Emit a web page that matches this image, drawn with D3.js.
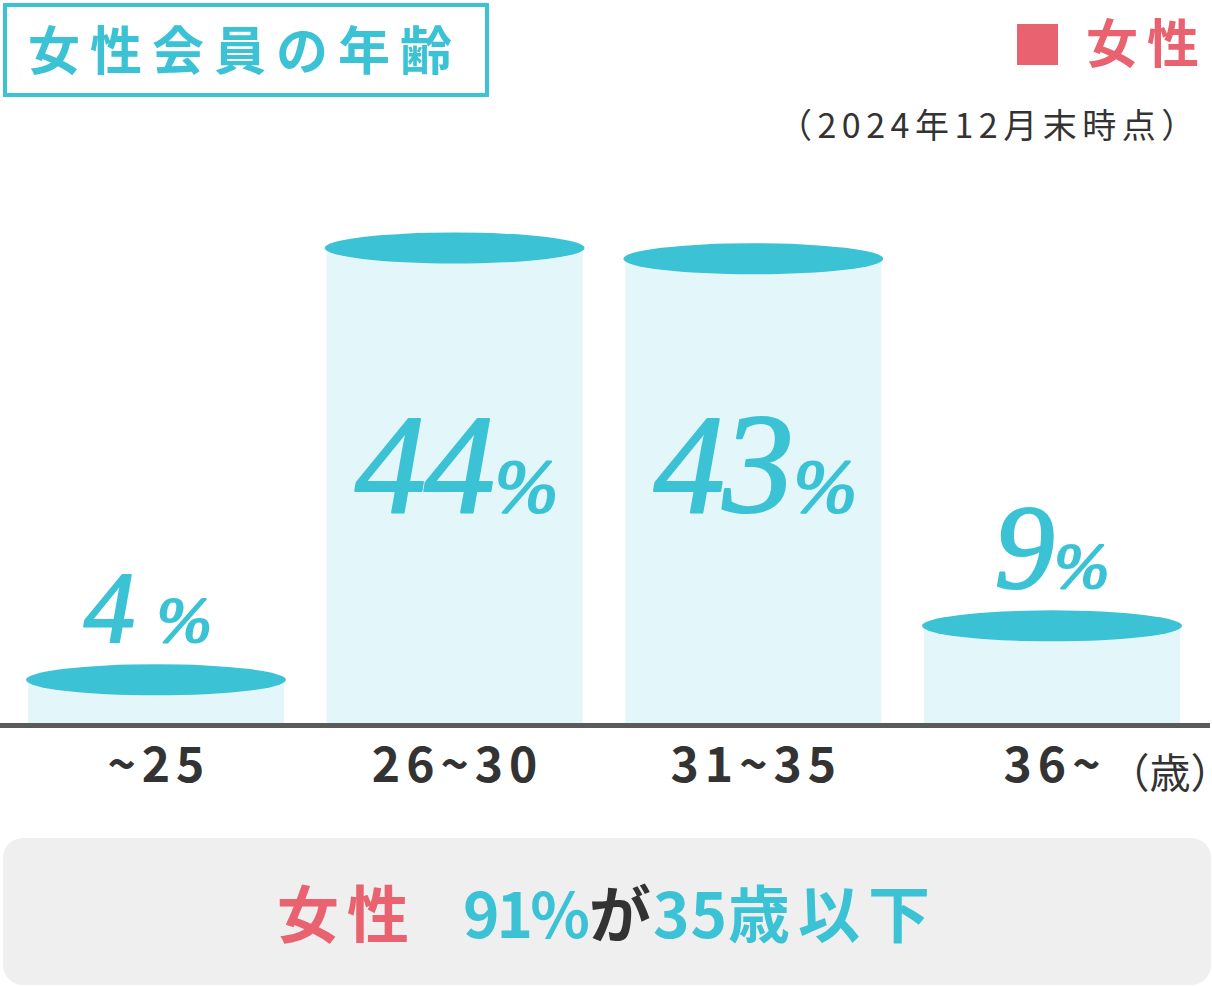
<!DOCTYPE html>
<html><head><meta charset="utf-8">
<script src="https://cdn.jsdelivr.net/npm/d3@7/dist/d3.min.js"></script>
<style>
html,body{margin:0;padding:0;background:#fff;}
svg{display:block;}
text{font-family:"Noto Sans CJK JP","Noto Sans",sans-serif;}
</style></head>
<body>
<script>
// ---- data ----
const categories = ["~25", "26~30", "31~35", "36~"];
const values = [4, 44, 43, 9];
const valueLabels = ["4", "44", "43", "9"];
const titleText = "女性会員の年齢";
const legendLabel = "女性";
const noteText = "（2024年12月末時点）";
const unitText = "（歳）";
const summaryParts = ["女性", "91%", "が", "35", "歳以下"];
const summaryColors = ["pink", "teal", "dark", "teal", "teal"];

const W = 1212, H = 986;
const TEAL = "#3bc2d5", BODY = "#e3f7fb", PINK = "#e8636f", DARK = "#333333";
const colorOf = {pink: PINK, teal: TEAL, dark: DARK};

const svg = d3.select("body").append("svg").attr("width", W).attr("height", H);

const baseY = 723;
const x = d3.scaleBand().domain(categories).range([28, 1180]).paddingInner(0.143).paddingOuter(0);
const y = d3.scaleLinear().domain([0, 44]).range([baseY, 248]);

// Title box
svg.append("rect").attr("x", 5).attr("y", 5).attr("width", 482).attr("height", 90)
  .attr("fill", "#fff").attr("stroke", TEAL).attr("stroke-width", 4);
svg.append("text").attr("x", 28).attr("y", 70).attr("fill", TEAL)
  .attr("font-size", 52).attr("font-weight", 700).attr("letter-spacing", 10)
  .text(titleText);

// Legend
svg.append("rect").attr("x", 1017).attr("y", 24).attr("width", 41).attr("height", 41).attr("fill", PINK);
svg.append("text").attr("x", 1086).attr("y", 63).attr("fill", PINK)
  .attr("font-size", 52).attr("font-weight", 700).attr("letter-spacing", 9)
  .text(legendLabel);

// Note
svg.append("text").attr("x", 778).attr("y", 138).attr("fill", DARK)
  .attr("font-size", 34).attr("letter-spacing", 5.5)
  .text(noteText);

// Bars (cylinders)
const g = svg.append("g");
const bars = g.selectAll("g.bar").data(categories.map((c, i) => ({c, v: values[i], l: valueLabels[i]})))
  .join("g").attr("class", "bar");

bars.append("rect")
  .attr("x", d => x(d.c))
  .attr("y", d => y(d.v))
  .attr("width", x.bandwidth())
  .attr("height", d => baseY - y(d.v))
  .attr("fill", BODY);

bars.append("ellipse")
  .attr("cx", d => x(d.c) + x.bandwidth() / 2)
  .attr("cy", d => y(d.v))
  .attr("rx", x.bandwidth() / 2 + 2)
  .attr("ry", 15.5)
  .attr("fill", TEAL);

// value labels
const big = d => d.v >= 20;
const numSize = d => big(d) ? 142 : (d.v >= 8 ? 120 : 102);
const pctSize = d => big(d) ? 76 : 66;
const lbl = bars.append("text")
  .attr("x", d => x(d.c) + x.bandwidth() / 2 + (big(d) ? 2 : (d.v < 8 ? -8 : 0)))
  .attr("y", d => big(d) ? 512 : y(d.v) - 15.5 - 22)
  .attr("text-anchor", "middle")
  .attr("fill", TEAL)
  .attr("stroke", TEAL).attr("stroke-width", 2.2).attr("stroke-linejoin", "round")
  .style("font-family", "'Liberation Serif','DejaVu Serif',serif")
  .attr("font-style", "italic")
  .attr("font-weight", 400);
lbl.append("tspan").attr("font-size", numSize).attr("letter-spacing", -2).text(d => d.l);
lbl.append("tspan").attr("font-size", pctSize).attr("dx", d => d.v < 8 ? 24 : 2).text("%");

// baseline
svg.append("line").attr("x1", 0).attr("x2", 1210).attr("y1", baseY + 2.5).attr("y2", baseY + 2.5)
  .attr("stroke", "#5a5a5a").attr("stroke-width", 5);

// x axis labels
svg.append("g").selectAll("text").data(categories).join("text")
  .attr("x", d => x(d) + x.bandwidth() / 2 + 3)
  .attr("y", 782)
  .attr("text-anchor", "middle")
  .attr("fill", DARK)
  .attr("font-size", 48).attr("font-weight", 700).attr("letter-spacing", 6)
  .text(d => d);

svg.append("text").attr("x", 1129).attr("y", 788).attr("fill", DARK)
  .attr("font-size", 41).style("font-feature-settings", "'halt' 1")
  .text(unitText);

// summary box
svg.append("rect").attr("x", 3).attr("y", 838).attr("width", 1208).attr("height", 147)
  .attr("rx", 20).attr("fill", "#efefef");
const st = svg.append("text").attr("x", 277).attr("y", 938)
  .attr("font-size", 62).attr("font-weight", 700);
const partDx = [0, 46, 2, 2, 0];
const partLs = [8, -3, 0, 1, 8];
st.selectAll("tspan").data(summaryParts).join("tspan")
  .attr("dx", (d, i) => partDx[i])
  .attr("letter-spacing", (d, i) => partLs[i])
  .attr("fill", (d, i) => colorOf[summaryColors[i]]).text(d => d);
</script>
</body></html>
